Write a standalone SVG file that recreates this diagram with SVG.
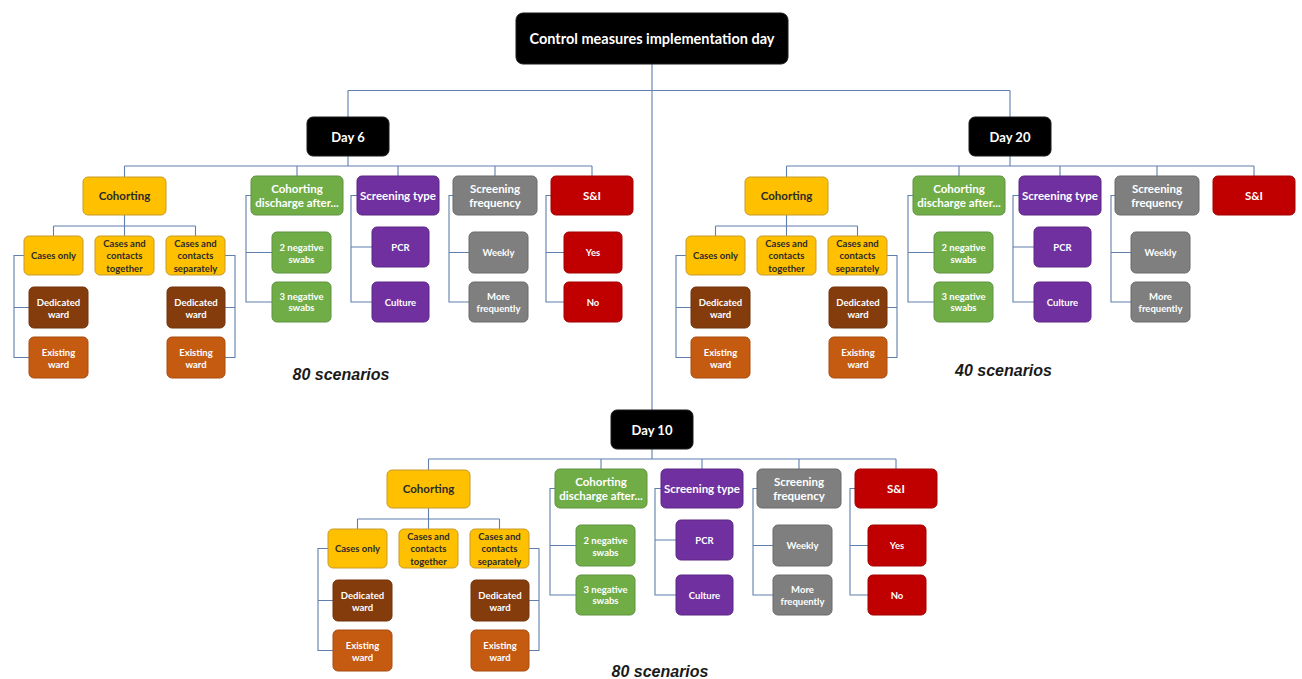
<svg xmlns="http://www.w3.org/2000/svg" width="1302" height="679" viewBox="0 0 1302 679">
<style>
.bg{fill:#ffffff}
.ln{fill:none;stroke:#5F7FAE;stroke-width:1.1}
rect{stroke-width:1}
.blk{fill:#000000;stroke:#1a1a1a}
.yel{fill:#FFC000;stroke:#C89B2A}
.grn{fill:#70AD47;stroke:#5E9140}
.pur{fill:#7030A0;stroke:#5C2785}
.gry{fill:#7F7F7F;stroke:#6B6B6B}
.red{fill:#C00000;stroke:#A30000}
.brn{fill:#843C0C;stroke:#6E320A}
.org{fill:#C55A11;stroke:#A84C0E}
text{font-family:Lato,"Open Sans","Liberation Sans",sans-serif;font-weight:bold;text-anchor:middle}
.w{fill:#ffffff}
.k{fill:#2b2b2b}
.s15{font-size:14.5px}
.s13{font-size:13px}
.s12{font-size:11.5px}
.s10{font-size:9.5px}
.sc{font-size:16px;font-style:italic;fill:#1a1a1a;font-family:"Liberation Sans",Arial,sans-serif}
</style>
<rect class="bg" x="0" y="0" width="1302" height="679"/>

<g id="connectors">
  <path class="ln" d="M652 64 V410 M348 90.5 H1010 M348 90.5 V117 M1010 90.5 V117"/>
  <g id="conn-day6">
    <path class="ln" d="M348 156 V166 M124.5 166 H592 M124.5 166 V177 M297 166 V176 M398 166 V176 M495 166 V176 M592 166 V176"/>
    <path class="ln" d="M124.5 215 V226 M53.5 226 H195.5 M53.5 226 V236 M124.5 226 V236 M195.5 226 V236"/>
    <path class="ln" d="M24 255.5 H14 V357.5 H29 M14 307.5 H29 M225 255.5 H235 V357.5 H225 M235 307.5 H225"/>
    <path class="ln" d="M251 195.5 H246 V302 H272 M246 252.5 H272 M357 195.5 H351 V302 H372 M351 247 H372 M453 195.5 H449 V302 H469 M449 252.5 H469 M551 195.5 H546 V302 H564 M546 252.5 H564"/>
  </g>
  <g id="conn-day20" transform="translate(662,0)">
    <path class="ln" d="M348 156 V166 M124.5 166 H592 M124.5 166 V177 M297 166 V176 M398 166 V176 M495 166 V176 M592 166 V176"/>
    <path class="ln" d="M124.5 215 V226 M53.5 226 H195.5 M53.5 226 V236 M124.5 226 V236 M195.5 226 V236"/>
    <path class="ln" d="M24 255.5 H14 V357.5 H29 M14 307.5 H29 M225 255.5 H235 V357.5 H225 M235 307.5 H225"/>
    <path class="ln" d="M251 195.5 H246 V302 H272 M246 252.5 H272 M357 195.5 H351 V302 H372 M351 247 H372 M453 195.5 H449 V302 H469 M449 252.5 H469"/>
  </g>
  <g id="conn-day10" transform="translate(304,293)">
    <path class="ln" d="M348 156 V166 M124.5 166 H592 M124.5 166 V177 M297 166 V176 M398 166 V176 M495 166 V176 M592 166 V176"/>
    <path class="ln" d="M124.5 215 V226 M53.5 226 H195.5 M53.5 226 V236 M124.5 226 V236 M195.5 226 V236"/>
    <path class="ln" d="M24 255.5 H14 V357.5 H29 M14 307.5 H29 M225 255.5 H235 V357.5 H225 M235 307.5 H225"/>
    <path class="ln" d="M251 195.5 H246 V302 H272 M246 252.5 H272 M357 195.5 H351 V302 H372 M351 247 H372 M453 195.5 H449 V302 H469 M449 252.5 H469 M551 195.5 H546 V302 H564 M546 252.5 H564"/>
  </g>
</g>

<g id="root"><rect class="blk" x="516" y="13" width="272" height="51" rx="7"/><text class="w s15" x="652" y="44">Control measures implementation day</text></g>

<!-- Day 6 -->
<g id="day6-tree">
  <g id="d6-day"><rect class="blk" x="307" y="117" width="82" height="39" rx="6"/><text class="w s13" x="348" y="141.5">Day 6</text></g>
  <g id="d6-cohorting"><rect class="yel" x="83" y="177" width="83" height="38" rx="5"/><text class="k s12" x="124.5" y="200">Cohorting</text></g>
  <g id="d6-discharge"><rect class="grn" x="251" y="176" width="92" height="39" rx="5"/><text class="w s12" x="297" y="193">Cohorting</text><text class="w s12" x="297" y="207">discharge after...</text></g>
  <g id="d6-stype"><rect class="pur" x="357" y="176" width="82" height="39" rx="5"/><text class="w s12" x="398" y="200">Screening type</text></g>
  <g id="d6-sfreq"><rect class="gry" x="453" y="176" width="84" height="39" rx="5"/><text class="w s12" x="495" y="193">Screening</text><text class="w s12" x="495" y="207">frequency</text></g>
  <g id="d6-si"><rect class="red" x="551" y="176" width="82" height="39" rx="5"/><text class="w s12" x="592" y="200">S&amp;I</text></g>
  <g id="d6-casesonly"><rect class="yel" x="24" y="236" width="59" height="39" rx="5"/><text class="k s10" x="53.5" y="259">Cases only</text></g>
  <g id="d6-together"><rect class="yel" x="95" y="236" width="59" height="39" rx="5"/><text class="k s10" x="124.5" y="246.5">Cases and</text><text class="k s10" x="124.5" y="259">contacts</text><text class="k s10" x="124.5" y="271.5">together</text></g>
  <g id="d6-separately"><rect class="yel" x="166" y="236" width="59" height="39" rx="5"/><text class="k s10" x="195.5" y="246.5">Cases and</text><text class="k s10" x="195.5" y="259">contacts</text><text class="k s10" x="195.5" y="271.5">separately</text></g>
  <g id="d6-ded1"><rect class="brn" x="29" y="287" width="59" height="41" rx="5"/><text class="w s10" x="58.5" y="305.5">Dedicated</text><text class="w s10" x="58.5" y="317.5">ward</text></g>
  <g id="d6-ex1"><rect class="org" x="29" y="337" width="59" height="41" rx="5"/><text class="w s10" x="58.5" y="355.5">Existing</text><text class="w s10" x="58.5" y="367.5">ward</text></g>
  <g id="d6-ded2"><rect class="brn" x="167" y="287" width="58" height="41" rx="5"/><text class="w s10" x="196" y="305.5">Dedicated</text><text class="w s10" x="196" y="317.5">ward</text></g>
  <g id="d6-ex2"><rect class="org" x="167" y="337" width="58" height="41" rx="5"/><text class="w s10" x="196" y="355.5">Existing</text><text class="w s10" x="196" y="367.5">ward</text></g>
  <g id="d6-neg2"><rect class="grn" x="272" y="232" width="59" height="41" rx="5"/><text class="w s10" x="301.5" y="251">2 negative</text><text class="w s10" x="301.5" y="262.5">swabs</text></g>
  <g id="d6-neg3"><rect class="grn" x="272" y="282" width="59" height="40" rx="5"/><text class="w s10" x="301.5" y="300">3 negative</text><text class="w s10" x="301.5" y="311">swabs</text></g>
  <g id="d6-pcr"><rect class="pur" x="372" y="227" width="57" height="40" rx="5"/><text class="w s10" x="400.5" y="250.5">PCR</text></g>
  <g id="d6-culture"><rect class="pur" x="372" y="282" width="57" height="40" rx="5"/><text class="w s10" x="400.5" y="305.5">Culture</text></g>
  <g id="d6-weekly"><rect class="gry" x="469" y="232" width="59" height="41" rx="5"/><text class="w s10" x="498.5" y="256">Weekly</text></g>
  <g id="d6-morefreq"><rect class="gry" x="469" y="282" width="59" height="40" rx="5"/><text class="w s10" x="498.5" y="299.5">More</text><text class="w s10" x="498.5" y="311.5">frequently</text></g>
  <g id="d6-yes"><rect class="red" x="564" y="232" width="58" height="41" rx="5"/><text class="w s10" x="593" y="256">Yes</text></g>
  <g id="d6-no"><rect class="red" x="564" y="282" width="58" height="40" rx="5"/><text class="w s10" x="593" y="305.5">No</text></g>
</g>

<!-- Day 20 -->
<g id="day20-tree" transform="translate(662,0)">
  <g id="d20-day"><rect class="blk" x="307" y="117" width="82" height="39" rx="6"/><text class="w s13" x="348" y="141.5">Day 20</text></g>
  <g id="d20-cohorting"><rect class="yel" x="83" y="177" width="83" height="38" rx="5"/><text class="k s12" x="124.5" y="200">Cohorting</text></g>
  <g id="d20-discharge"><rect class="grn" x="251" y="176" width="92" height="39" rx="5"/><text class="w s12" x="297" y="193">Cohorting</text><text class="w s12" x="297" y="207">discharge after...</text></g>
  <g id="d20-stype"><rect class="pur" x="357" y="176" width="82" height="39" rx="5"/><text class="w s12" x="398" y="200">Screening type</text></g>
  <g id="d20-sfreq"><rect class="gry" x="453" y="176" width="84" height="39" rx="5"/><text class="w s12" x="495" y="193">Screening</text><text class="w s12" x="495" y="207">frequency</text></g>
  <g id="d20-si"><rect class="red" x="551" y="176" width="82" height="39" rx="5"/><text class="w s12" x="592" y="200">S&amp;I</text></g>
  <g id="d20-casesonly"><rect class="yel" x="24" y="236" width="59" height="39" rx="5"/><text class="k s10" x="53.5" y="259">Cases only</text></g>
  <g id="d20-together"><rect class="yel" x="95" y="236" width="59" height="39" rx="5"/><text class="k s10" x="124.5" y="246.5">Cases and</text><text class="k s10" x="124.5" y="259">contacts</text><text class="k s10" x="124.5" y="271.5">together</text></g>
  <g id="d20-separately"><rect class="yel" x="166" y="236" width="59" height="39" rx="5"/><text class="k s10" x="195.5" y="246.5">Cases and</text><text class="k s10" x="195.5" y="259">contacts</text><text class="k s10" x="195.5" y="271.5">separately</text></g>
  <g id="d20-ded1"><rect class="brn" x="29" y="287" width="59" height="41" rx="5"/><text class="w s10" x="58.5" y="305.5">Dedicated</text><text class="w s10" x="58.5" y="317.5">ward</text></g>
  <g id="d20-ex1"><rect class="org" x="29" y="337" width="59" height="41" rx="5"/><text class="w s10" x="58.5" y="355.5">Existing</text><text class="w s10" x="58.5" y="367.5">ward</text></g>
  <g id="d20-ded2"><rect class="brn" x="167" y="287" width="58" height="41" rx="5"/><text class="w s10" x="196" y="305.5">Dedicated</text><text class="w s10" x="196" y="317.5">ward</text></g>
  <g id="d20-ex2"><rect class="org" x="167" y="337" width="58" height="41" rx="5"/><text class="w s10" x="196" y="355.5">Existing</text><text class="w s10" x="196" y="367.5">ward</text></g>
  <g id="d20-neg2"><rect class="grn" x="272" y="232" width="59" height="41" rx="5"/><text class="w s10" x="301.5" y="251">2 negative</text><text class="w s10" x="301.5" y="262.5">swabs</text></g>
  <g id="d20-neg3"><rect class="grn" x="272" y="282" width="59" height="40" rx="5"/><text class="w s10" x="301.5" y="300">3 negative</text><text class="w s10" x="301.5" y="311">swabs</text></g>
  <g id="d20-pcr"><rect class="pur" x="372" y="227" width="57" height="40" rx="5"/><text class="w s10" x="400.5" y="250.5">PCR</text></g>
  <g id="d20-culture"><rect class="pur" x="372" y="282" width="57" height="40" rx="5"/><text class="w s10" x="400.5" y="305.5">Culture</text></g>
  <g id="d20-weekly"><rect class="gry" x="469" y="232" width="59" height="41" rx="5"/><text class="w s10" x="498.5" y="256">Weekly</text></g>
  <g id="d20-morefreq"><rect class="gry" x="469" y="282" width="59" height="40" rx="5"/><text class="w s10" x="498.5" y="299.5">More</text><text class="w s10" x="498.5" y="311.5">frequently</text></g>
</g>

<!-- Day 10 -->
<g id="day10-tree" transform="translate(304,293)">
  <g id="d10-day"><rect class="blk" x="307" y="117" width="82" height="39" rx="6"/><text class="w s13" x="348" y="141.5">Day 10</text></g>
  <g id="d10-cohorting"><rect class="yel" x="83" y="177" width="83" height="38" rx="5"/><text class="k s12" x="124.5" y="200">Cohorting</text></g>
  <g id="d10-discharge"><rect class="grn" x="251" y="176" width="92" height="39" rx="5"/><text class="w s12" x="297" y="193">Cohorting</text><text class="w s12" x="297" y="207">discharge after...</text></g>
  <g id="d10-stype"><rect class="pur" x="357" y="176" width="82" height="39" rx="5"/><text class="w s12" x="398" y="200">Screening type</text></g>
  <g id="d10-sfreq"><rect class="gry" x="453" y="176" width="84" height="39" rx="5"/><text class="w s12" x="495" y="193">Screening</text><text class="w s12" x="495" y="207">frequency</text></g>
  <g id="d10-si"><rect class="red" x="551" y="176" width="82" height="39" rx="5"/><text class="w s12" x="592" y="200">S&amp;I</text></g>
  <g id="d10-casesonly"><rect class="yel" x="24" y="236" width="59" height="39" rx="5"/><text class="k s10" x="53.5" y="259">Cases only</text></g>
  <g id="d10-together"><rect class="yel" x="95" y="236" width="59" height="39" rx="5"/><text class="k s10" x="124.5" y="246.5">Cases and</text><text class="k s10" x="124.5" y="259">contacts</text><text class="k s10" x="124.5" y="271.5">together</text></g>
  <g id="d10-separately"><rect class="yel" x="166" y="236" width="59" height="39" rx="5"/><text class="k s10" x="195.5" y="246.5">Cases and</text><text class="k s10" x="195.5" y="259">contacts</text><text class="k s10" x="195.5" y="271.5">separately</text></g>
  <g id="d10-ded1"><rect class="brn" x="29" y="287" width="59" height="41" rx="5"/><text class="w s10" x="58.5" y="305.5">Dedicated</text><text class="w s10" x="58.5" y="317.5">ward</text></g>
  <g id="d10-ex1"><rect class="org" x="29" y="337" width="59" height="41" rx="5"/><text class="w s10" x="58.5" y="355.5">Existing</text><text class="w s10" x="58.5" y="367.5">ward</text></g>
  <g id="d10-ded2"><rect class="brn" x="167" y="287" width="58" height="41" rx="5"/><text class="w s10" x="196" y="305.5">Dedicated</text><text class="w s10" x="196" y="317.5">ward</text></g>
  <g id="d10-ex2"><rect class="org" x="167" y="337" width="58" height="41" rx="5"/><text class="w s10" x="196" y="355.5">Existing</text><text class="w s10" x="196" y="367.5">ward</text></g>
  <g id="d10-neg2"><rect class="grn" x="272" y="232" width="59" height="41" rx="5"/><text class="w s10" x="301.5" y="251">2 negative</text><text class="w s10" x="301.5" y="262.5">swabs</text></g>
  <g id="d10-neg3"><rect class="grn" x="272" y="282" width="59" height="40" rx="5"/><text class="w s10" x="301.5" y="300">3 negative</text><text class="w s10" x="301.5" y="311">swabs</text></g>
  <g id="d10-pcr"><rect class="pur" x="372" y="227" width="57" height="40" rx="5"/><text class="w s10" x="400.5" y="250.5">PCR</text></g>
  <g id="d10-culture"><rect class="pur" x="372" y="282" width="57" height="40" rx="5"/><text class="w s10" x="400.5" y="305.5">Culture</text></g>
  <g id="d10-weekly"><rect class="gry" x="469" y="232" width="59" height="41" rx="5"/><text class="w s10" x="498.5" y="256">Weekly</text></g>
  <g id="d10-morefreq"><rect class="gry" x="469" y="282" width="59" height="40" rx="5"/><text class="w s10" x="498.5" y="299.5">More</text><text class="w s10" x="498.5" y="311.5">frequently</text></g>
  <g id="d10-yes"><rect class="red" x="564" y="232" width="58" height="41" rx="5"/><text class="w s10" x="593" y="256">Yes</text></g>
  <g id="d10-no"><rect class="red" x="564" y="282" width="58" height="40" rx="5"/><text class="w s10" x="593" y="305.5">No</text></g>
</g>

<g id="labels">
  <text class="sc" x="341" y="380">80 scenarios</text>
  <text class="sc" x="1003.5" y="376">40 scenarios</text>
  <text class="sc" x="660" y="677">80 scenarios</text>
</g>
</svg>
